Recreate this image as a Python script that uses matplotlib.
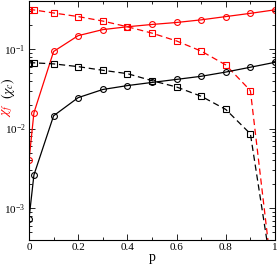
import matplotlib
matplotlib.use("Agg")
import matplotlib.pyplot as plt
from matplotlib.ticker import MultipleLocator, LogLocator, NullFormatter, LogFormatterMathtext, FuncFormatter

plt.rcParams['font.family'] = ['Liberation Serif', 'DejaVu Serif']
plt.rcParams['mathtext.fontset'] = 'stix'

# p values (last point lies below the visible range)
p = [0.0, 0.02, 0.1, 0.2, 0.3, 0.4, 0.5, 0.6, 0.7, 0.8, 0.9, 1.0]

# chi_f (red) and chi_c (black); circles solid, squares dashed
chi_f_circ = [0.0040, 0.0158, 0.093, 0.147, 0.175, 0.19, 0.203, 0.215, 0.232, 0.255, 0.28, 0.31]
chi_f_sq = [0.312, 0.309, 0.283, 0.255, 0.224, 0.19, 0.158, 0.126, 0.094, 0.063, 0.030, 7e-5]
chi_c_circ = [7.4e-4, 0.00262, 0.0145, 0.0245, 0.031, 0.0347, 0.038, 0.0415, 0.0454, 0.0513, 0.059, 0.068]
chi_c_sq = [0.067, 0.067, 0.065, 0.060, 0.054, 0.049, 0.040, 0.0333, 0.0255, 0.0174, 0.0086, 8.7e-5]

fig = plt.figure(figsize=(2.79, 2.65), dpi=100)
ax = fig.add_axes([29/279, 25/265, 246/279, 239/265])

mk = dict(markersize=4.2, markerfacecolor='none', markeredgewidth=0.8, linewidth=0.9)
dash = (0, (5, 3))
ax.plot(p, chi_f_circ, color='red', marker='o', linestyle='-', **mk)
ax.plot(p, chi_f_sq, color='red', marker='s', linestyle=dash, **mk)
ax.plot(p, chi_c_circ, color='black', marker='o', linestyle='-', **mk)
ax.plot(p, chi_c_sq, color='black', marker='s', linestyle=dash, **mk)

ax.set_yscale('log')
ax.set_xlim(0, 1)
ax.set_ylim(4e-4, 0.4)

ax.xaxis.set_major_locator(MultipleLocator(0.2))
ax.xaxis.set_minor_locator(MultipleLocator(0.1))
ax.xaxis.set_major_formatter(FuncFormatter(lambda v, pos: '%g' % round(v, 1)))
ax.yaxis.set_major_locator(LogLocator(base=10))
ax.yaxis.set_minor_locator(LogLocator(base=10, subs=range(2, 10)))
ax.yaxis.set_minor_formatter(NullFormatter())
ax.yaxis.set_major_formatter(LogFormatterMathtext())

ax.tick_params(which='both', direction='in', top=True, right=True, labelsize=8, pad=2.5)
ax.tick_params(which='major', length=4, width=0.6)
ax.tick_params(which='minor', length=2.5, width=0.6)
for s in ax.spines.values():
    s.set_linewidth(0.8)

ax.set_xlabel('p', fontsize=10, labelpad=-1)
fig.text(8/279, 1 - 110/265, r'$\chi_f$', color='red', rotation=90, fontsize=10, ha='center', va='center')
fig.text(8/279, 1 - 88/265, r'$(\chi_c)$', color='black', rotation=90, fontsize=10, ha='center', va='center')

fig.savefig('out.png', dpi=100)
